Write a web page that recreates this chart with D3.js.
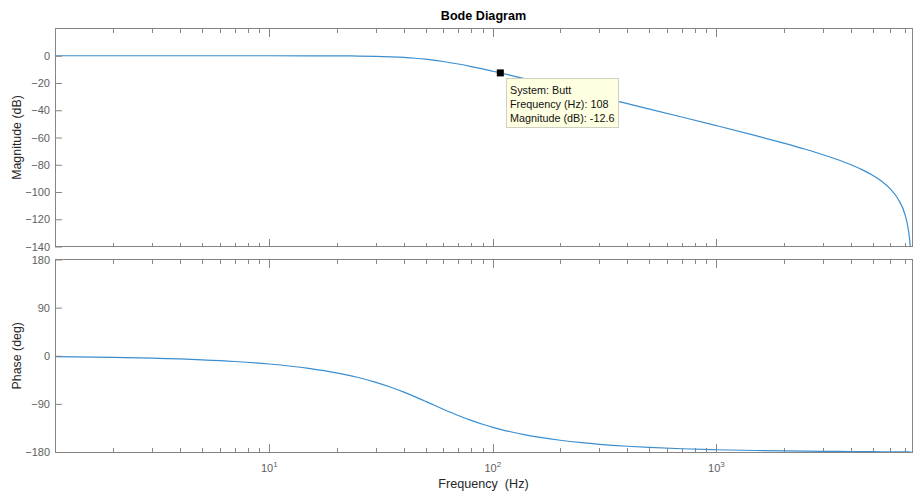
<!DOCTYPE html>
<html>
<head>
<meta charset="utf-8">
<script src="https://cdn.jsdelivr.net/npm/d3@7/dist/d3.min.js"></script>
<style>
  html, body { margin: 0; padding: 0; background: #fff; }
  svg { display: block; font-family: "Liberation Sans", Arial, Helvetica, sans-serif; }
</style>
</head>
<body>
<svg id="chart" width="913" height="493"></svg>
<script>
// ---- Data ----
const freqHz = [1.1, 2, 3, 5, 7, 10, 15, 20, 25, 30, 35, 40, 45, 50, 53, 60, 70, 80, 90, 100, 108, 120, 140, 160, 200, 250, 300, 400, 500, 700, 1000, 1500, 2000, 2500, 3000, 3500, 4000, 4500, 5000, 5500, 6000, 6500, 7000, 7200, 7300, 7350, 7400, 7450];
const magnitudeDb = [0, 0, 0, 0, -0.001, -0.006, -0.028, -0.087, -0.21, -0.42, -0.76, -1.22, -1.82, -2.53, -3.01, -4.22, -6.07, -7.92, -9.69, -11.36, -12.61, -14.36, -16.96, -19.25, -23.10, -26.97, -30.14, -35.15, -39.05, -44.96, -51.29, -58.66, -64.13, -68.64, -72.64, -76.36, -80.01, -83.74, -87.73, -92.24, -97.72, -105.09, -117.32, -126.24, -133.29, -138.29, -145.34, -157.38];
const phaseDeg = [-1.65, -3.06, -4.59, -7.67, -10.76, -15.47, -23.51, -31.90, -40.63, -49.67, -58.88, -68.04, -76.91, -85.29, -90, -99.98, -111.73, -120.91, -128.11, -133.81, -137.57, -142.19, -147.99, -152.25, -158.06, -162.59, -165.56, -169.23, -171.41, -173.90, -175.76, -177.23, -177.98, -178.44, -178.76, -179.00, -179.19, -179.35, -179.48, -179.60, -179.71, -179.81, -179.91, -179.94, -179.96, -179.97, -179.98, -179.99];
const freqDomain = [1.1, 7500];
const magDomain = [-140, 20];
const phaseDomain = [-180, 180];
const magTicks = [0, -20, -40, -60, -80, -100, -120, -140];
const phaseTicks = [180, 90, 0, -90, -180];
const majorFreqTicks = [10, 100, 1000];
const majorFreqExponents = ["1", "2", "3"];
const tipFreq = 108;
const tipMag = -12.6;
const tipLines = ["System: Butt", "Frequency (Hz): 108", "Magnitude (dB): -12.6"];

// ---- Layout ----
const L = 55, R = 912;
const magTop = 28.5, magBot = 246.5;
const phTop = 259.5, phBot = 452;
const axisColor = "#858585";
const labelColor = "#5e5e5e";
const lineColor = "#3a8ed0";

const svg = d3.select("#chart");
const x = d3.scaleLog().domain(freqDomain).range([L, R]);
const yMag = d3.scaleLinear().domain(magDomain).range([magBot, magTop]);
const yPh = d3.scaleLinear().domain(phaseDomain).range([phBot, phTop]);

// minor tick values 2..9 x decades
const minorTicks = [];
for (let d = 1; d <= 1000; d *= 10) {
  for (let k = 1; k <= 9; k++) {
    const v = k * d;
    if (v >= freqDomain[0] && v <= freqDomain[1] && !majorFreqTicks.includes(v)) minorTicks.push(v);
  }
}

function drawPanel(id, yScale, top, bot, yTicks, values, label) {
  const g = svg.append("g").attr("id", id);
  const clipId = id + "-clip";
  svg.append("clipPath").attr("id", clipId)
    .append("rect").attr("x", L).attr("y", top).attr("width", R - L).attr("height", bot - top);

  // curve
  const line = d3.line()
    .x((d, i) => x(freqHz[i]))
    .y(d => yScale(d))
    .curve(d3.curveMonotoneX);
  g.append("path")
    .datum(values)
    .attr("clip-path", `url(#${clipId})`)
    .attr("fill", "none")
    .attr("stroke", lineColor)
    .attr("stroke-width", 1.2)
    .attr("d", line);

  // box
  g.append("rect")
    .attr("x", L).attr("y", top).attr("width", R - L).attr("height", bot - top)
    .attr("fill", "none").attr("stroke", axisColor).attr("stroke-width", 1)
    .attr("shape-rendering", "crispEdges");

  // x ticks (inward, top and bottom)
  const tg = g.append("g").attr("stroke", axisColor).attr("stroke-width", 1).attr("shape-rendering", "crispEdges");
  minorTicks.forEach(v => {
    const px = Math.round(x(v)) + 0.5;
    tg.append("line").attr("x1", px).attr("x2", px).attr("y1", bot).attr("y2", bot - 4);
    tg.append("line").attr("x1", px).attr("x2", px).attr("y1", top).attr("y2", top + 4);
  });
  majorFreqTicks.forEach(v => {
    const px = Math.round(x(v)) + 0.5;
    tg.append("line").attr("x1", px).attr("x2", px).attr("y1", bot).attr("y2", bot - 8);
    tg.append("line").attr("x1", px).attr("x2", px).attr("y1", top).attr("y2", top + 8);
  });

  // y axis ticks + labels
  const yAxis = d3.axisLeft(yScale).tickValues(yTicks).tickSizeInner(-7).tickSizeOuter(0).tickPadding(5);
  const ya = g.append("g").attr("transform", `translate(${L},0)`).call(yAxis);
  ya.select(".domain").remove();
  ya.selectAll(".tick line").attr("stroke", axisColor);
  ya.selectAll(".tick text")
    .attr("fill", labelColor)
    .attr("font-size", 11)
    .attr("font-family", "'Liberation Sans', Arial, sans-serif");

  // y label
  g.append("text")
    .attr("transform", `translate(21,${(top + bot) / 2}) rotate(-90)`)
    .attr("text-anchor", "middle")
    .attr("fill", "#262626")
    .attr("font-size", 12.4)
    .text(label);
}

drawPanel("mag", yMag, magTop, magBot, magTicks, magnitudeDb, "Magnitude (dB)");
drawPanel("phase", yPh, phTop, phBot, phaseTicks, phaseDeg, "Phase (deg)");

// x tick labels (10^n)
majorFreqTicks.forEach((v, i) => {
  const t = svg.append("text")
    .attr("x", x(v))
    .attr("y", 472)
    .attr("text-anchor", "middle")
    .attr("fill", labelColor)
    .attr("font-size", 11);
  t.append("tspan").text("10");
  t.append("tspan").attr("font-size", 8).attr("dy", -5).text(majorFreqExponents[i]);
});

// x label
svg.append("text")
  .attr("x", (L + R) / 2)
  .attr("y", 488)
  .attr("text-anchor", "middle")
  .attr("fill", "#262626")
  .attr("font-size", 12.6)
  .attr("xml:space", "preserve")
  .style("white-space", "pre")
  .text("Frequency  (Hz)");

// title
svg.append("text")
  .attr("x", (L + R) / 2)
  .attr("y", 19.5)
  .attr("text-anchor", "middle")
  .attr("fill", "#000")
  .attr("font-weight", "bold")
  .attr("font-size", 12.6)
  .text("Bode Diagram");

// data tip
const mx = x(tipFreq), my = yMag(tipMag);
const tip = svg.append("g").attr("id", "datatip");
const bx = Math.round(mx) + 6.5, by = Math.round(my) + 5.5;
tip.append("rect")
  .attr("x", bx).attr("y", by).attr("width", 112).attr("height", 49)
  .attr("fill", "#ffffe1").attr("stroke", "#d0d0c0").attr("stroke-width", 1);
tipLines.forEach((s, i) => {
  tip.append("text")
    .attr("x", bx + 3.5)
    .attr("y", by + 15 + i * 14.3)
    .attr("fill", "#111")
    .attr("font-size", 10.8)
    .text(s);
});
tip.append("rect")
  .attr("x", mx - 3.5).attr("y", my - 3.5).attr("width", 7).attr("height", 7)
  .attr("fill", "#000");
</script>
</body>
</html>
